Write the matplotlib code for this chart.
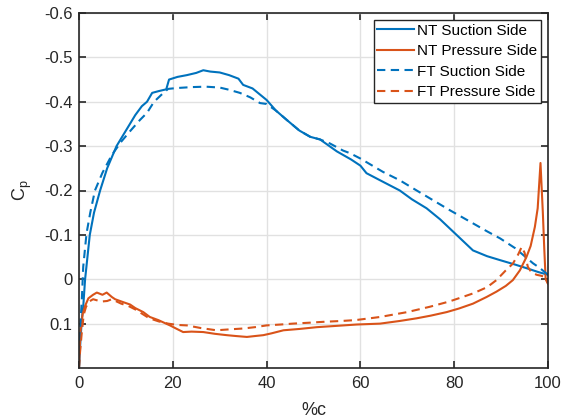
import matplotlib
matplotlib.use("Agg")
import matplotlib.pyplot as plt

plt.rcParams['font.family'] = ['Liberation Sans', 'DejaVu Sans']
plt.rcParams['axes.unicode_minus'] = False

# ---- data ----
nt_suc_x = [0, 0.3, 0.6, 0.9, 1.3, 1.8, 2.3, 3.2, 4.5, 6, 8, 10, 12, 13.4, 14.5, 15.6, 17, 18.6,
            19.2, 21, 23, 25, 26.5, 28, 30, 32, 34, 35, 37, 40, 42, 44.3, 47, 49.3, 51.4, 55,
            58, 60, 61.3, 64.2, 68.4, 71, 74.1, 77, 79.8, 82, 84, 87, 89.8, 93, 95.4, 98, 99.7, 100]
nt_suc_cp = [0.2, 0.14, 0.09, 0.062, 0.0, -0.05, -0.1, -0.15, -0.2, -0.25, -0.3, -0.335, -0.37, -0.39,
             -0.40, -0.42, -0.424, -0.428, -0.45, -0.456, -0.46, -0.465, -0.471, -0.468, -0.466, -0.46,
             -0.452, -0.438, -0.43, -0.404, -0.38, -0.359, -0.335, -0.321, -0.315, -0.288,
             -0.27, -0.256, -0.239, -0.223, -0.2, -0.18, -0.16, -0.135, -0.107, -0.085, -0.065,
             -0.052, -0.043, -0.033, -0.025, -0.016, -0.011, -0.01]

ft_suc_x = [0, 0.3, 0.6, 0.9, 1.6, 2.4, 3.4, 5, 7, 9, 11, 13, 14.5, 16, 17.5, 19, 21, 24, 27, 30,
            32, 34.3, 36.5, 38.6, 40, 42, 44.3, 47, 49.3, 51.4, 53.5, 56.3, 57.8, 60, 64.8, 68.4,
            72, 75.5, 79, 84, 87, 89.8, 93, 96.8, 98.3, 100]
ft_suc_cp = [0.2, 0.1, 0.047, -0.028, -0.103, -0.15, -0.2, -0.24, -0.28, -0.31, -0.335, -0.359,
             -0.375, -0.40, -0.415, -0.429, -0.431, -0.433, -0.434, -0.432, -0.427, -0.42, -0.41,
             -0.397, -0.395, -0.38, -0.359, -0.335, -0.321, -0.315, -0.306, -0.29, -0.284, -0.272,
             -0.242, -0.223, -0.2, -0.178, -0.156, -0.126, -0.108, -0.092, -0.07, -0.036, -0.025, -0.01]

nt_pre_x = [0, 0.3, 0.8, 1.3, 2, 3, 3.8, 5, 5.9, 7, 7.7, 9, 10.9, 12, 13.7, 15.1, 16.9, 19.4, 20.5,
            22.2, 24, 26.5, 29, 31.5, 33.5, 35.8, 37.5, 39.3, 41, 43.6, 47, 50.7, 55, 59.2, 64.2,
            68.4, 72, 75, 78.4, 81, 84, 86.9, 89, 91, 92.5, 94, 95.4, 96.3, 97.2, 97.8, 98.4, 98.9,
            99.2, 99.5, 100]
nt_pre_cp = [0.2, 0.12, 0.077, 0.06, 0.043, 0.035, 0.03, 0.035, 0.03, 0.04, 0.045, 0.05, 0.057,
             0.065, 0.074, 0.085, 0.092, 0.104, 0.11, 0.119, 0.118, 0.119, 0.123, 0.126, 0.128, 0.13,
             0.128, 0.126, 0.122, 0.115, 0.112, 0.108, 0.105, 0.102, 0.1, 0.094, 0.088, 0.082, 0.074,
             0.066, 0.055, 0.04, 0.028, 0.015, 0.002, -0.02, -0.05, -0.075, -0.118, -0.16, -0.262,
             -0.15, -0.07, 0.0, 0.01]

ft_pre_x = [0, 0.2, 0.55, 1, 1.5, 2.2, 3, 4, 5, 6, 7, 8, 9, 10.5, 12, 13.5, 15, 17, 19, 21, 23, 26,
            29.3, 32, 35, 37.5, 40, 43, 45.6, 49, 52, 56, 59, 62, 64.2, 66.3, 70, 74.8, 79, 84, 87,
            89, 91, 92.5, 93.6, 94.4, 95, 95.7, 96.5, 97.6, 98.5, 99.4, 100]
ft_pre_cp = [0.2, 0.167, 0.125, 0.08, 0.062, 0.05, 0.045, 0.048, 0.05, 0.049, 0.045, 0.05, 0.055,
             0.06, 0.068, 0.078, 0.088, 0.095, 0.1, 0.103, 0.104, 0.11, 0.115, 0.113, 0.111, 0.108,
             0.104, 0.102, 0.1, 0.098, 0.096, 0.094, 0.092, 0.088, 0.085, 0.081, 0.074, 0.062, 0.05,
             0.032, 0.018, 0.002, -0.02, -0.035, -0.055, -0.073, -0.06, -0.028, -0.015, -0.01,
             -0.008, -0.005, 0.01]

x_ticks = [0, 20, 40, 60, 80, 100]
y_ticks = [-0.6, -0.5, -0.4, -0.3, -0.2, -0.1, 0, 0.1]
y_tick_labels = ['-0.6', '-0.5', '-0.4', '-0.3', '-0.2', '-0.1', '0', '0.1']
legend_labels = ['NT Suction Side', 'NT Pressure Side', 'FT Suction Side', 'FT Pressure Side']

blue = '#0072BD'
orange = '#D95319'
dark = '#262626'

fig = plt.figure(figsize=(5.7, 4.18), dpi=100)
ax = fig.add_axes([79/570, 1-368/418, (548-79)/570, (368-13)/418])

lw = 1.5
dash = (4, 2.6)
ax.plot(nt_suc_x, nt_suc_cp, color=blue, lw=lw, label=legend_labels[0])
ax.plot(nt_pre_x, nt_pre_cp, color=orange, lw=lw, label=legend_labels[1])
ax.plot(ft_suc_x, ft_suc_cp, color=blue, lw=lw, ls=(0, dash), label=legend_labels[2])
ax.plot(ft_pre_x, ft_pre_cp, color=orange, lw=lw, ls=(0, dash), label=legend_labels[3])

ax.set_xlim(0, 100)
ax.set_ylim(0.2, -0.6)
ax.set_xticks(x_ticks)
ax.set_xticklabels([str(v) for v in x_ticks])
ax.set_yticks(y_ticks)
ax.set_yticklabels(y_tick_labels)

ax.grid(True, color='#e1e1e1', lw=1.0)
ax.set_axisbelow(True)
for s in ax.spines.values():
    s.set_color(dark)
    s.set_linewidth(1.2)
ax.tick_params(direction='in', length=5, width=1.2, top=True, right=True,
               labelsize=12, colors=dark)
ax.tick_params(axis='x', pad=5.5)
ax.tick_params(axis='y', pad=4.5)

ax.set_xlabel('%c', fontsize=13, color=dark, labelpad=8)
ax.set_ylabel('C$_\\mathregular{p}$', fontsize=13, color=dark, labelpad=7)

leg = ax.legend(loc='upper right', fontsize=11, frameon=True, fancybox=False,
                edgecolor=dark, framealpha=1, borderpad=0.25, labelspacing=0.42,
                handlelength=2.4, handletextpad=0.2, borderaxespad=0.45)
leg.get_frame().set_linewidth(1.0)

fig.savefig('out.png', dpi=100)
